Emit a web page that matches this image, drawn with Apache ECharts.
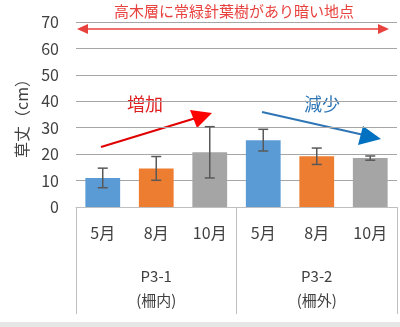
<!DOCTYPE html>
<html>
<head>
<meta charset="utf-8">
<script src="https://cdn.jsdelivr.net/npm/echarts@6/dist/echarts.min.js"></script>
<style>
  html, body { margin: 0; padding: 0; background: #fff; }
  #chart { width: 400px; height: 327px; }
</style>
</head>
<body>
<div id="chart"></div>
<script>
// Grass height by month at two plots, with standard-deviation whiskers
const months = ['5月', '8月', '10月', '5月', '8月', '10月'];
const plots = ['P3-1\n(柵内)', 'P3-2\n(柵外)'];
const heights = [11.0, 14.6, 20.7, 25.3, 19.2, 18.5];
const errors = [3.7, 4.5, 9.7, 4.1, 3.1, 0.8];
const barColors = ['#5B9BD5', '#ED7D31', '#A5A5A5', '#5B9BD5', '#ED7D31', '#A5A5A5'];
const yTicks = [0, 10, 20, 30, 40, 50, 60, 70];

const FONT = '"Noto Sans CJK JP", "Noto Sans", sans-serif';
const chart = echarts.init(document.getElementById('chart'), null, { renderer: 'canvas' });

const option = {
  animation: false,
  backgroundColor: '#ffffff',
  textStyle: { fontFamily: FONT },
  grid: { left: 76, right: 3, top: 22, bottom: 120, containLabel: false },
  xAxis: [
    {
      type: 'category',
      data: months,
      axisLine: { show: true, lineStyle: { color: '#BFBFBF', width: 1 } },
      axisTick: { show: false },
      axisLabel: { color: '#404040', fontSize: 16, margin: 18, fontFamily: FONT }
    },
    {
      type: 'category',
      data: plots,
      position: 'bottom',
      axisLine: { show: false },
      axisTick: { show: true, length: 107, lineStyle: { color: '#BFBFBF', width: 1 } },
      axisLabel: { color: '#404040', fontSize: 15, margin: 57, lineHeight: 24, fontFamily: FONT }
    }
  ],
  yAxis: {
    type: 'value',
    min: yTicks[0],
    max: yTicks[yTicks.length - 1],
    interval: 10,
    name: '草丈（cm）',
    nameLocation: 'middle',
    nameGap: 46,
    nameRotate: 90,
    nameTextStyle: { color: '#404040', fontSize: 16, fontFamily: FONT },
    axisLine: { show: false },
    axisTick: { show: false },
    axisLabel: { color: '#404040', fontSize: 16, margin: 17, fontFamily: FONT },
    splitLine: { lineStyle: { color: '#A6A6A6', width: 1 } }
  },
  series: [
    {
      type: 'bar',
      barWidth: '65%',
      data: heights.map((v, i) => ({ value: v, itemStyle: { color: barColors[i] } })),
      z: 2
    },
    {
      type: 'custom',
      data: heights.map((v, i) => [i, v - errors[i], v + errors[i]]),
      renderItem: function (params, api) {
        const lo = api.coord([api.value(0), api.value(1)]);
        const hi = api.coord([api.value(0), api.value(2)]);
        const cap = 5;
        const style = { stroke: '#595959', lineWidth: 1.5 };
        return {
          type: 'group',
          children: [
            { type: 'line', shape: { x1: hi[0], y1: hi[1], x2: lo[0], y2: lo[1] }, style: style },
            { type: 'line', shape: { x1: hi[0] - cap, y1: hi[1], x2: hi[0] + cap, y2: hi[1] }, style: style },
            { type: 'line', shape: { x1: lo[0] - cap, y1: lo[1], x2: lo[0] + cap, y2: lo[1] }, style: style }
          ]
        };
      },
      z: 3
    }
  ],
  graphic: [
    // bottom frame band
    { type: 'rect', shape: { x: 0, y: 322, width: 400, height: 5 }, style: { fill: '#E6E6E6' }, z: 0 },
    // caption
    { type: 'text', x: 234, y: 4, style: { text: '高木層に常緑針葉樹があり暗い地点', fill: '#E8423F', font: '15px ' + FONT, textAlign: 'center' } },
    // double-headed span arrow
    { type: 'line', shape: { x1: 84, y1: 29, x2: 381, y2: 29 }, style: { stroke: '#E8423F', lineWidth: 1.5 } },
    { type: 'polygon', shape: { points: [[77, 29], [88, 24], [88, 34]] }, style: { fill: '#E8423F' } },
    { type: 'polygon', shape: { points: [[389, 29], [378, 24], [378, 34]] }, style: { fill: '#E8423F' } },
    // increasing trend
    { type: 'text', x: 127, y: 95, style: { text: '増加', fill: '#E02020', font: '18px ' + FONT } },
    { type: 'line', shape: { x1: 101, y1: 147, x2: 196, y2: 118 }, style: { stroke: '#E00000', lineWidth: 2 } },
    { type: 'polygon', shape: { points: [[212, 113], [190, 110], [197, 128]] }, style: { fill: '#FF0000' } },
    // decreasing trend
    { type: 'text', x: 304, y: 95, style: { text: '減少', fill: '#2E75B6', font: '18px ' + FONT } },
    { type: 'line', shape: { x1: 262, y1: 112, x2: 364, y2: 135 }, style: { stroke: '#2E75B6', lineWidth: 2 } },
    { type: 'polygon', shape: { points: [[381, 139], [363, 126], [358, 145]] }, style: { fill: '#0070C0' } }
  ]
};

chart.setOption(option);
</script>
</body>
</html>
